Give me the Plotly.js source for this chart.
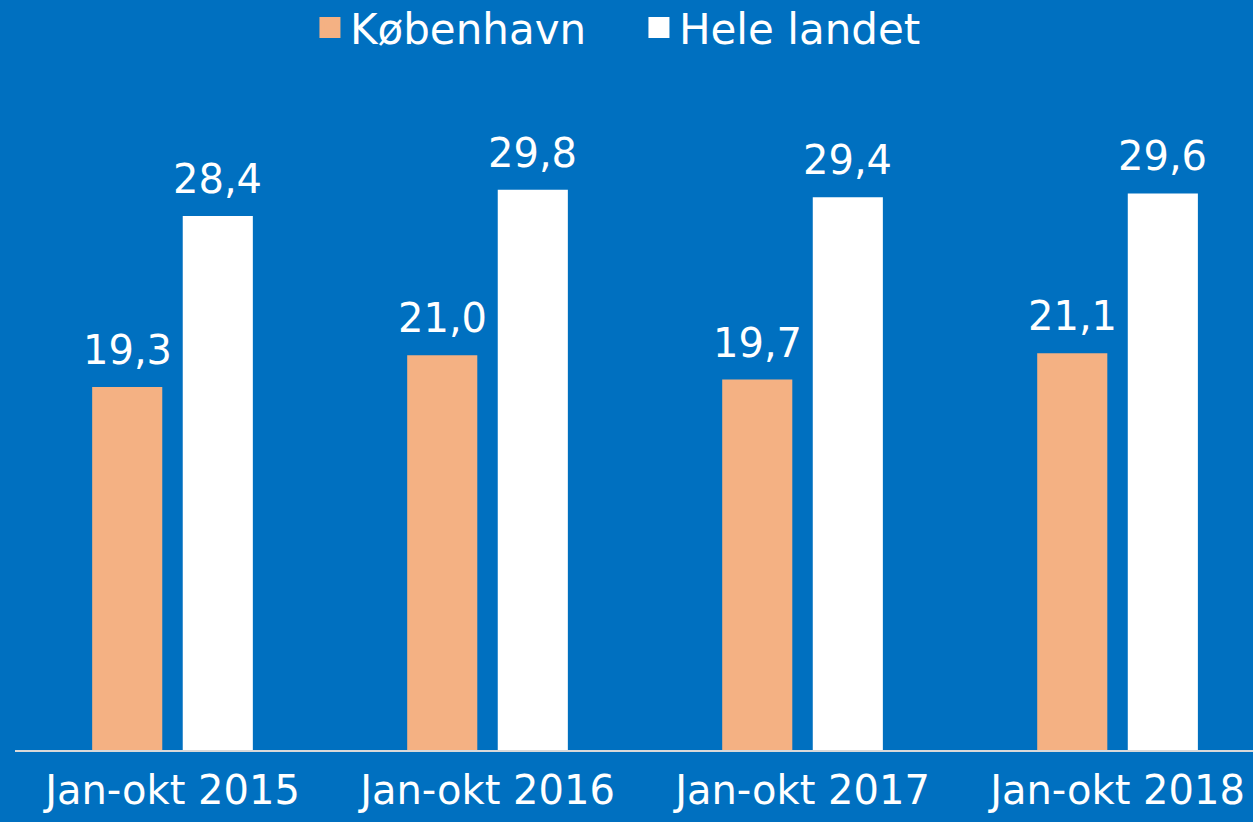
<!DOCTYPE html>
<html>
<head>
<meta charset="utf-8">
<script src="https://cdn.plot.ly/plotly-3.0.1.min.js"></script>
<style>
html,body{margin:0;padding:0;background:#0070C0;}
#chart{width:1253px;height:822px;}
</style>
</head>
<body>
<div id="chart"></div>
<script>
const categories = ["Jan-okt 2015", "Jan-okt 2016", "Jan-okt 2017", "Jan-okt 2018"];
const kobenhavn = [19.3, 21.0, 19.7, 21.1];
const heleLandet = [28.4, 29.8, 29.4, 29.6];
const seriesNames = ["København", "Hele landet"];
const colors = ["#F4B183", "#FFFFFF"];
const fmt = v => v.toFixed(1).replace(".", ",");

const FONT = "DejaVu Sans, sans-serif";
const traces = [
  {type: "bar", name: seriesNames[0], x: categories, y: kobenhavn,
   marker: {color: colors[0]}, hoverinfo: "skip", showlegend: false},
  {type: "bar", name: seriesNames[1], x: categories, y: heleLandet,
   marker: {color: colors[1]}, hoverinfo: "skip", showlegend: false},
  // legend entries with larger square swatches
  {type: "scatter", mode: "markers", name: seriesNames[0], x: [null], y: [null],
   marker: {symbol: "square", size: 16, color: colors[0], line: {color: colors[0], width: 5}}},
  {type: "scatter", mode: "markers", name: seriesNames[1], x: [null], y: [null],
   marker: {symbol: "square", size: 16, color: colors[1], line: {color: colors[1], width: 5}}}
];

const annotations = [];
categories.forEach((c, i) => {
  annotations.push({x: c, y: kobenhavn[i], text: fmt(kobenhavn[i]), xref: "x", yref: "y",
    showarrow: false, yanchor: "bottom", xshift: -45, yshift: 12,
    font: {family: FONT, size: 40, color: "#FFFFFF"}});
  annotations.push({x: c, y: heleLandet[i], text: fmt(heleLandet[i]), xref: "x", yref: "y",
    showarrow: false, yanchor: "bottom", xshift: 45, yshift: 12,
    font: {family: FONT, size: 40, color: "#FFFFFF"}});
});

const layout = {
  width: 1253, height: 822,
  paper_bgcolor: "#0070C0", plot_bgcolor: "#0070C0",
  margin: {l: 15, r: 0, t: 90, b: 72, autoexpand: false},
  barmode: "group", bargap: 0.425, bargroupgap: 0.226,
  showlegend: true,
  legend: {orientation: "h", x: 0.504, xanchor: "center", y: 1.146, yanchor: "top",
    font: {family: FONT, size: 42, color: "#FFFFFF"}, bgcolor: "rgba(0,0,0,0)",
    itemclick: false, traceorder: "normal", entrywidth: 284},
  xaxis: {type: "category", range: [-0.5, 3.43], showgrid: false, zeroline: false,
    showline: true, linecolor: "#D9D9D9", linewidth: 2,
    ticks: "outside", ticklen: 4, tickcolor: "rgba(0,0,0,0)",
    tickfont: {family: FONT, size: 40, color: "#FFFFFF"}},
  yaxis: {range: [0, 35.1], visible: false, showgrid: false, zeroline: false},
  annotations: annotations
};

Plotly.newPlot("chart", traces, layout, {displayModeBar: false, staticPlot: true});
</script>
</body>
</html>
